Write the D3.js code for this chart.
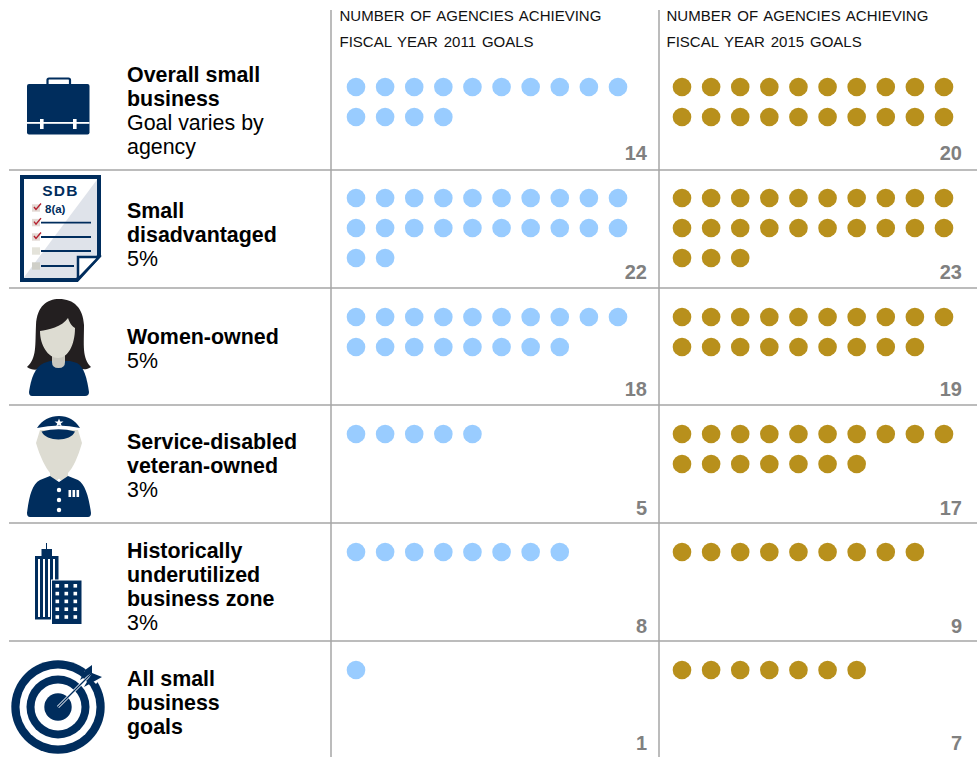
<!DOCTYPE html>
<html>
<head>
<meta charset="utf-8">
<script src="https://cdnjs.cloudflare.com/ajax/libs/d3/7.8.5/d3.min.js"></script>
<style>
html, body { margin: 0; padding: 0; background: #fff; }
svg { display: block; font-family: "Liberation Sans", Arial, sans-serif; }
</style>
</head>
<body>
<svg id="chart" width="977" height="757"></svg>
<script>
const goalNames = [
	["Overall small", "business"],
	["Small", "disadvantaged"],
	["Women-owned"],
	["Service-disabled", "veteran-owned"],
	["Historically", "underutilized", "business zone"],
	["All small", "business", "goals"]
];
const goalNotes = [
	["Goal varies by", "agency"],
	["5%"],
	["5%"],
	["3%"],
	["3%"],
	[]
];
const fy2011 = [14, 22, 18, 5, 8, 1];
const fy2015 = [20, 23, 19, 17, 9, 7];
const headers2011 = ["NUMBER OF AGENCIES ACHIEVING", "FISCAL YEAR 2011 GOALS"];
const headers2015 = ["NUMBER OF AGENCIES ACHIEVING", "FISCAL YEAR 2015 GOALS"];

const navy = "#002d5d", skin = "#dddcd2", blue = "#99ccff", gold = "#b8901c";
const perRow = 10;

const svg = d3.select("#chart");

// layout
const rowLines = [170, 288, 405, 523, 641];
const firstDot = [87, 198, 317, 434, 552, 670];
const numBase = [160, 279, 396, 515, 633, 750];
const textBase = [82, 218, 344, 449, 558, 686];

const colX = d3.scaleLinear().domain([0, perRow - 1]);
const rowStep = 30;

// grid lines
svg.selectAll(".hline").data(rowLines).join("line")
	.attr("class", "hline")
	.attr("x1", 9).attr("x2", 977)
	.attr("y1", d => d).attr("y2", d => d)
	.style("stroke", "#a6a6a6").style("stroke-width", 1.5);

svg.selectAll(".vline").data([331, 659]).join("line")
	.attr("class", "vline")
	.attr("x1", d => d).attr("x2", d => d)
	.attr("y1", 10).attr("y2", 757)
	.style("stroke", "#a6a6a6").style("stroke-width", 1.5);

// column headers and dots
function draw_column(values, headers, x0, textX, numX, color) {
	const x = colX.copy().range([x0, x0 + 262]);
	const g = svg.append("g");

	headers.forEach((h, i) => {
		g.append("text")
			.attr("x", textX).attr("y", 21 + i * 26)
			.style("font-size", "15px")
			.style("fill", "#111")
			.style("word-spacing", "1.7px")
			.text(h);
	});

	values.forEach((v, r) => {
		g.selectAll(null).data(d3.range(v)).join("circle")
			.attr("cx", d => x(d % perRow))
			.attr("cy", d => firstDot[r] + Math.floor(d / perRow) * rowStep)
			.attr("r", 9.3)
			.style("fill", color);

		g.append("text")
			.attr("x", numX).attr("y", numBase[r])
			.attr("text-anchor", "end")
			.style("font-size", "20px")
			.style("font-weight", "bold")
			.style("fill", "#808080")
			.text(v);
	});
}

draw_column(fy2011, headers2011, 356, 339.5, 647, blue);
draw_column(fy2015, headers2015, 682, 666.5, 962, gold);

// row labels
goalNames.forEach((names, r) => {
	const t = svg.append("text").attr("x", 127).attr("y", textBase[r])
		.style("font-size", "21.4px").style("fill", "#000");
	names.forEach((s, i) => {
		t.append("tspan").attr("x", 127).attr("dy", i ? 24 : 0)
			.style("font-weight", "bold").text(s);
	});
	goalNotes[r].forEach(s => {
		t.append("tspan").attr("x", 127).attr("dy", 24).text(s);
	});
});

// icons
function icon_briefcase() {
	const g = svg.append("g");
	g.append("path")
		.attr("d", "M47.5 85 V80 Q47.5 78.5 49 78.5 H68.5 Q70 78.5 70 80 V85")
		.style("fill", "none").style("stroke", navy).style("stroke-width", 2.2);
	g.append("rect").attr("x", 27).attr("y", 84).attr("width", 62.5).attr("height", 50.5).attr("rx", 2).style("fill", navy);
	g.append("rect").attr("x", 27).attr("y", 122).attr("width", 62.5).attr("height", 1.8).style("fill", "#fff");
	g.append("rect").attr("x", 40).attr("y", 119).attr("width", 3.6).attr("height", 10).style("fill", "#fff");
	g.append("rect").attr("x", 73).attr("y", 119).attr("width", 3.6).attr("height", 10).style("fill", "#fff");
}

function icon_document() {
	const g = svg.append("g");
	g.append("path").attr("d", "M22 177 H99 V256 L77 280 H22 Z").style("fill", "#fff");
	g.append("path").attr("d", "M22 280 H77 L99 256 V177 Z").style("fill", "#dfe3ea");
	g.append("path").attr("d", "M22 177 H99 V256 L77 280 H22 Z")
		.style("fill", "none").style("stroke", navy).style("stroke-width", 4);
	g.append("path").attr("d", "M78 257 H99 L78 279 Z").style("fill", "#fff").style("stroke", navy).style("stroke-width", 2.5);
	g.append("text").attr("x", 60.5).attr("y", 196).attr("text-anchor", "middle")
		.style("font-size", "15.5px").style("font-weight", "bold").style("fill", navy).style("letter-spacing", "1.2px").text("SDB");
	g.append("text").attr("x", 45).attr("y", 212.5)
		.style("font-size", "11.5px").style("font-weight", "bold").style("fill", navy).text("8(a)");
	[208, 222.6, 237, 251, 266].forEach((y, i) => {
		const fill = i < 3 ? "#e3d9d4" : (i == 4 ? "#cfcfc8" : "#e4e3da");
		g.append("rect").attr("x", 32).attr("y", y - 3.7).attr("width", 8).attr("height", 7.4).style("fill", fill);
		if (i < 3) {
			g.append("path").attr("d", `M34 ${y - 1} L36 ${y + 1.5} L41 ${y - 4.5}`)
				.style("fill", "none").style("stroke", "#b5202f").style("stroke-width", 1.4);
		}
		if (i > 0) {
			g.append("line").attr("x1", 41).attr("x2", i == 4 ? 74 : 91).attr("y1", y).attr("y2", y)
				.style("stroke", navy).style("stroke-width", 1.8);
		}
	});
}

function icon_woman() {
	const g = svg.append("g");
	g.append("path")
		.attr("d", "M27 367 C37 358 35 345 36 325 C37 306 47 299 59 299 C74 299 83 308 84 325 C84 345 82 358 91 367 C84 372 76 368 70 362 L50 362 C42 370 34 372 27 367 Z")
		.style("fill", "#231f20");
	g.append("path")
		.attr("d", "M32 396 Q29 396 29 392 C31 378 35 367 44 363 L50 361 H70 L77 363 C84 367 87 378 89 392 Q89 396 85 396 Z")
		.style("fill", navy);
	g.append("path").attr("d", "M52 352 H65 V362 Q65 368 58.5 368 Q52 368 52 362 Z").style("fill", "#c9c8bf");
	g.append("path")
		.attr("d", "M40 331 C48 330 62 327 68 318 C70 324 72 326 75 328 C75 345 68 358 58 358 C48 358 40 345 40 331 Z")
		.style("fill", skin);
}

function icon_officer() {
	const g = svg.append("g");
	g.append("path")
		.attr("d", "M40 430 L36 443 C40 457 46 468 50 473 V480 H68 V473 C73 468 78 457 82 443 L78 430 Z")
		.style("fill", skin);
	g.append("path").attr("d", "M37 428 C42 420 50 416 59 416 C68 416 75 420 80 428 Q59 423 37 428 Z").style("fill", navy);
	g.append("path").attr("d", "M41.5 431.5 Q59 427 75 431.5 C71 442 46 442 41.5 431.5 Z").style("fill", navy);
	g.append("path").attr("d", "M59 418.5 L60.2 421.5 L63.5 421.5 L60.8 423.5 L61.8 426.5 L59 424.8 L56.2 426.5 L57.2 423.5 L54.5 421.5 L57.8 421.5 Z")
		.style("fill", "#fff");
	g.append("path")
		.attr("d", "M30 517 Q27 517 27 513 C29 497 32 484 40 480 L50 476 L59 482 L68 476 L78 480 C85 484 89 497 91 513 Q91 517 88 517 Z")
		.style("fill", navy);
	[490, 500, 510].forEach(y => {
		g.append("circle").attr("cx", 59).attr("cy", y).attr("r", 2.2).style("fill", "#fff");
	});
	g.append("circle").attr("cx", 59).attr("cy", 480).attr("r", 1.3).style("fill", "#fff");
	[68.5, 72.5, 76.5].forEach(x => {
		g.append("rect").attr("x", x).attr("y", 490).attr("width", 2.6).attr("height", 7).style("fill", "#fff");
	});
}

function icon_buildings() {
	const g = svg.append("g");
	g.append("rect").attr("x", 46).attr("y", 543).attr("width", 1).attr("height", 8).style("fill", navy);
	g.append("rect").attr("x", 41.5).attr("y", 549).attr("width", 10.5).attr("height", 8).style("fill", navy);
	g.append("rect").attr("x", 35).attr("y", 556).attr("width", 23.5).attr("height", 63.5).style("fill", navy);
	[38, 43, 48, 53].forEach(x => {
		g.append("rect").attr("x", x).attr("y", 559).attr("width", 2).attr("height", 58).style("fill", "#fff");
	});
	g.append("rect").attr("x", 51.5).attr("y", 580).attr("width", 30.5).attr("height", 44.5)
		.style("fill", navy).style("stroke", "#fff").style("stroke-width", 1);
	d3.range(5).forEach(r => {
		[55.5, 64.5, 73.5].forEach(x => {
			g.append("rect").attr("x", x).attr("y", 584 + r * 7.8).attr("width", 3.6).attr("height", 3.6).style("fill", "#fff");
		});
	});
}

function icon_target() {
	const g = svg.append("g");
	[46.7, 38.5, 31.5, 23.5, 13.7].forEach((r, i) => {
		g.append("circle").attr("cx", 58).attr("cy", 707).attr("r", r)
			.style("fill", i % 2 ? "#fff" : navy);
	});
	g.append("path").attr("d", "M84 672 L96 684 L106 672 L92 660 Z").style("fill", "#fff");
	g.append("line").attr("x1", 58).attr("y1", 707).attr("x2", 92).attr("y2", 673)
		.style("stroke", "#fff").style("stroke-width", 2.8);
	g.append("line").attr("x1", 58).attr("y1", 707).attr("x2", 92).attr("y2", 673)
		.style("stroke", navy).style("stroke-width", 1.2);
	g.append("path").attr("d", "M80 680 L85 670 L92 665 L92 673 Z").style("fill", navy);
	g.append("path").attr("d", "M84 687 L93 682 L102 677 L92 673 Z").style("fill", navy);
}

icon_briefcase();
icon_document();
icon_woman();
icon_officer();
icon_buildings();
icon_target();
</script>
</body>
</html>
